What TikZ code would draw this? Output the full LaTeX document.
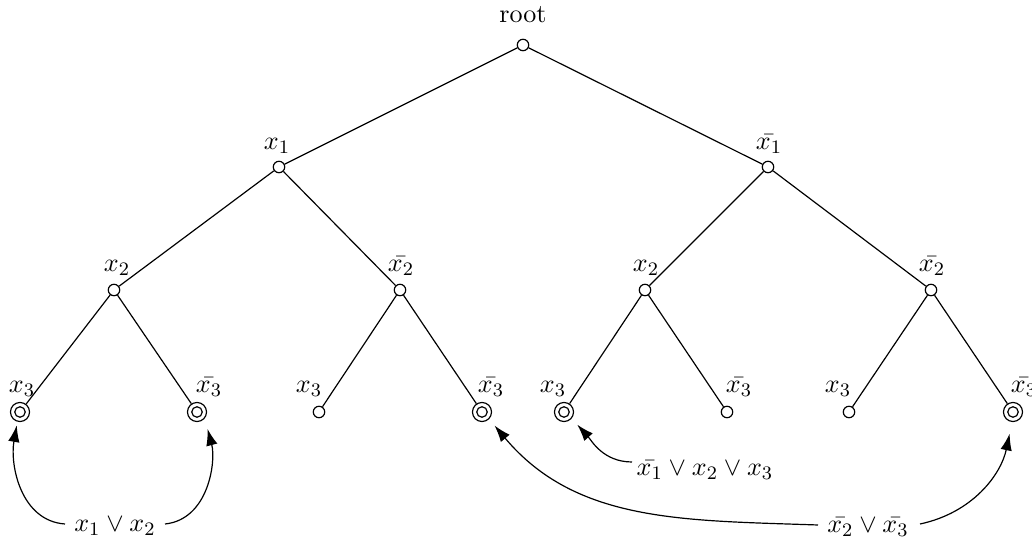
\documentclass[tikz,border=0pt]{standalone}
\usetikzlibrary{arrows.meta}
\begin{document}
\begin{tikzpicture}[x=0.42pt,y=-0.42pt,
  font=\fontsize{10.95}{13}\selectfont,
  pt/.style={circle,draw,fill=white,inner sep=0pt,minimum size=4.8pt,line width=0.5pt},
  acc/.style={pt,minimum size=8pt,path picture={\draw[line width=0.5pt] (path picture bounding box.center) circle (2.2pt);}},
  edge/.style={draw,line width=0.5pt},
  arr/.style={-{Latex[length=7pt,width=4.8pt]},line width=0.5pt},
  lab/.style={anchor=base,inner sep=0pt}]
\useasboundingbox (0,0) rectangle (1032,539);
% tree nodes
\node[pt] (r) at (523,45) {};
\node[pt] (a) at (279,167) {};
\node[pt] (b) at (768,167) {};
\node[pt] (aa) at (114,290) {};
\node[pt] (ab) at (400,290) {};
\node[pt] (ba) at (645,290) {};
\node[pt] (bb) at (931,290) {};
\node[acc] (l1) at (20,412) {};
\node[acc] (l2) at (197,412) {};
\node[pt] (l3) at (319,412) {};
\node[acc] (l4) at (482,412) {};
\node[acc] (l5) at (564,412) {};
\node[pt] (l6) at (727,412) {};
\node[pt] (l7) at (849,412) {};
\node[acc] (l8) at (1013,412) {};
% labels
\node[lab] (tr) at (523,23) {root};
\node[lab] (ta) at (277,150) {$x_1$};
\node[lab] (tb) at (769,150) {$\bar{x_1}$};
\node[lab] (taa) at (117,272) {$x_2$};
\node[lab] (tab) at (401,272) {$\bar{x_2}$};
\node[lab] (tba) at (646,272) {$x_2$};
\node[lab] (tbb) at (932,272) {$\bar{x_2}$};
\node[lab] (tl1) at (22,393) {$x_3$};
\node[lab] (tl2) at (209,393) {$\bar{x_3}$};
\node[lab] (tl3) at (309,393) {$x_3$};
\node[lab] (tl4) at (491,393) {$\bar{x_3}$};
\node[lab] (tl5) at (553,393) {$x_3$};
\node[lab] (tl6) at (739,393) {$\bar{x_3}$};
\node[lab] (tl7) at (838,393) {$x_3$};
\node[lab] (tl8) at (1024,393) {$\bar{x_3}$};
% edges
\draw[edge] (r) -- (a) (r) -- (b)
  (a) -- (aa) (a) -- (ab) (b) -- (ba) (b) -- (bb)
  (aa) -- (l1) (aa) -- (l2) (ab) -- (l3) (ab) -- (l4)
  (ba) -- (l5) (ba) -- (l6) (bb) -- (l7) (bb) -- (l8);
% clauses
\node[lab] (c1) at (115,532) {$x_1 \vee x_2$};
\node[lab] (c2) at (705,476) {$\bar{x_1} \vee x_2 \vee x_3$};
\node[lab] (c3) at (868,533) {$\bar{x_2} \vee \bar{x_3}$};
\coordinate (c1w) at (65,524);
\coordinate (c1e) at (165,524);
\coordinate (c2w) at (632,462);
\coordinate (c3w) at (818,525);
\coordinate (c3e) at (920,524);
\draw[arr,shorten >=1.5pt] (c1w) to[out=176,in=-100] (l1.-105);
\draw[arr,shorten >=4.5pt] (c1e) to[out=6,in=-75] (l2.-40);
\draw[arr,shorten >=3.5pt] (c2w) to[out=180,in=-48] (l5.-40);
\draw[arr,shorten >=3.5pt] (c3w) to[out=178,in=-50] (l4.-45);
\draw[arr,shorten >=5pt] (c3e) to[out=12,in=-102] (l8.-95);
\end{tikzpicture}
\end{document}
